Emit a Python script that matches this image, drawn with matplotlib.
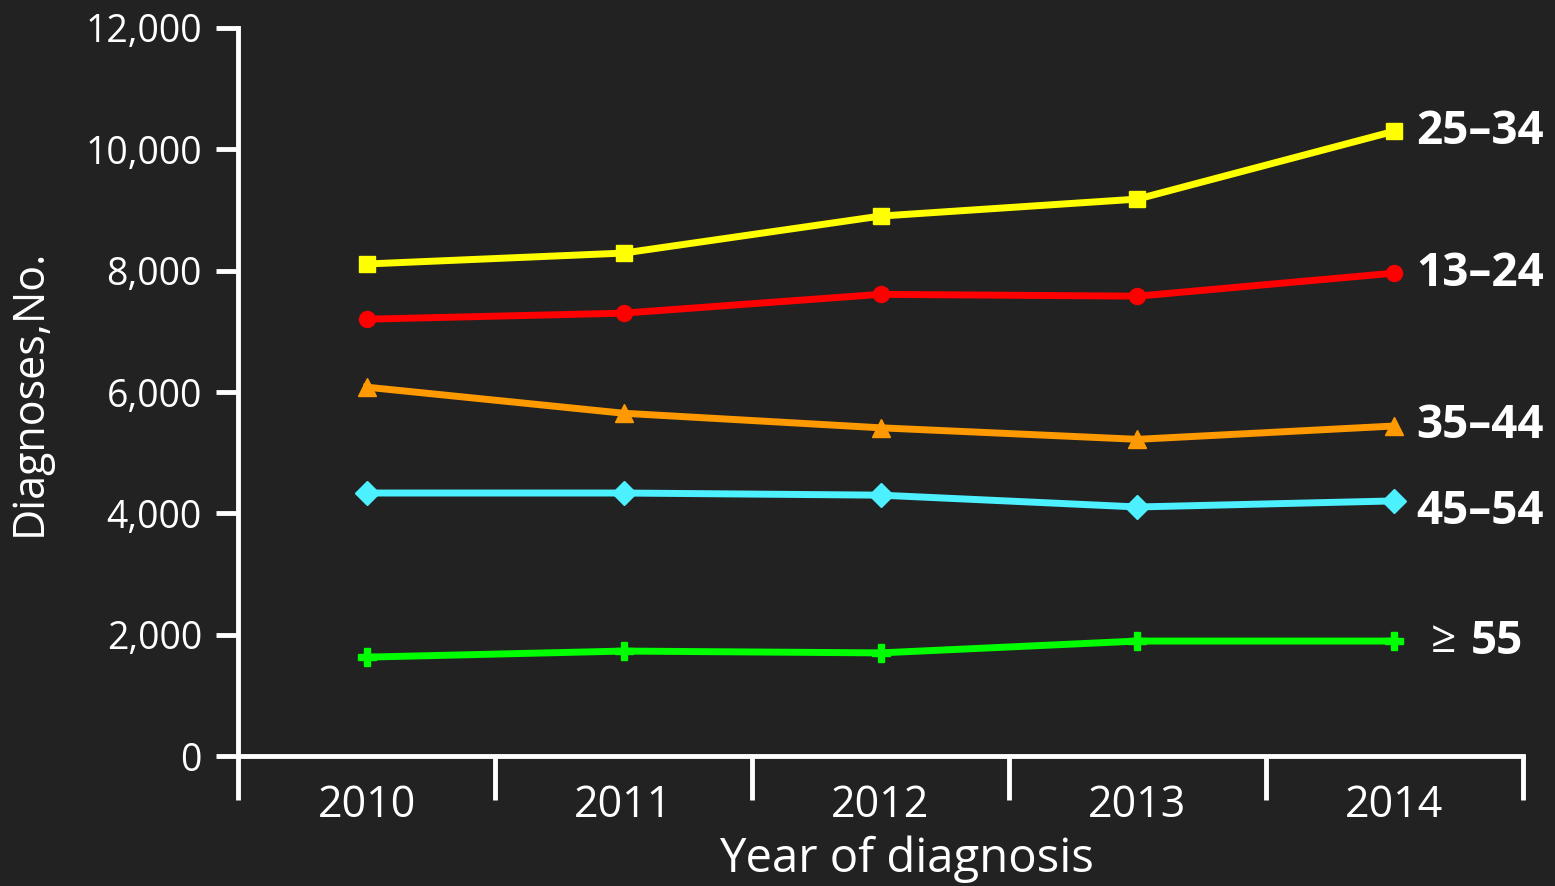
import numpy as np
import matplotlib.pyplot as plt
import matplotlib.ticker as ticker

plt.rcParams['font.family'] = ['Open Sans', 'DejaVu Sans']

years = ["2010", "2011", "2012", "2013", "2014"]

age_13_24 = [7200, 7300, 7610, 7580, 7960]
age_25_34 = [8110, 8290, 8900, 9180, 10300]
age_35_44 = [6080, 5650, 5410, 5220, 5440]
age_45_54 = [4335, 4335, 4300, 4105, 4205]
age_55_up = [1630, 1730, 1700, 1895, 1895]

bg = "#222222"
fg = "white"

series = [
    ("25–34", age_25_34, "#ffff00", "s", 0),
    ("13–24", age_13_24, "#ff0000", "o", 0),
    ("35–44", age_35_44, "#ff9900", "^", 0),
    ("45–54", age_45_54, "#4cf0ff", "D", -180),
    ("55", age_55_up, "#00ff00", "P", 0),
]

fig = plt.figure(figsize=(15.55, 8.86), dpi=100, facecolor=bg)
ax = fig.add_axes([0.1531, 0.1467, 0.8263, 0.8217])
ax.set_facecolor(bg)

x = np.arange(len(years))
for name, vals, color, marker, dy in series:
    ms = 11.5 if marker in ("s", "o") else 12.5
    ax.plot(x, vals, color=color, lw=5, marker=marker, ms=ms,
            mec=color, mfc=color, clip_on=False, zorder=3)

# labels at the right end of each line
for name, vals, color, marker, dy in series:
    if name == "55":
        ax.annotate("≥", (x[-1], vals[-1]), xytext=(26, 0), textcoords="offset points",
                    color=fg, fontsize=32, va="center", ha="left", annotation_clip=False)
        ax.annotate(name, (x[-1], vals[-1]), xytext=(55, 0), textcoords="offset points",
                    color=fg, fontsize=33, fontweight="bold", va="center", ha="left",
                    annotation_clip=False)
    else:
        ax.annotate(name, (x[-1], vals[-1] + dy), xytext=(16, 0), textcoords="offset points",
                    color=fg, fontsize=33, fontweight="bold", va="center", ha="left",
                    annotation_clip=False)

ax.set_xlim(-0.5, len(years) - 0.5)
ax.set_ylim(0, 12000)

for side in ("top", "right"):
    ax.spines[side].set_visible(False)
for side in ("left", "bottom"):
    ax.spines[side].set_color(fg)
    ax.spines[side].set_linewidth(3.5)

ax.yaxis.set_major_locator(ticker.MultipleLocator(2000))
ax.yaxis.set_major_formatter(ticker.StrMethodFormatter("{x:,.0f}"))
ax.tick_params(axis="y", colors=fg, labelcolor=fg, labelsize=27, length=16,
               width=3.5, pad=10)

# tick marks on category boundaries, labels at category centres
ax.xaxis.set_major_locator(ticker.FixedLocator(np.arange(-0.5, len(years))))
ax.xaxis.set_major_formatter(ticker.NullFormatter())
ax.xaxis.set_minor_locator(ticker.FixedLocator(x))
ax.xaxis.set_minor_formatter(ticker.FixedFormatter(years))
ax.tick_params(axis="x", which="major", colors=fg, length=32, width=3.5)
ax.tick_params(axis="x", which="minor", length=0, labelcolor=fg, labelsize=31, pad=20)

ax.set_ylabel("Diagnoses,No.", color=fg, fontsize=31)
ax.yaxis.set_label_coords(-0.145, 0.5)
ax.set_xlabel("Year of diagnosis", color=fg, fontsize=34)
ax.xaxis.set_label_coords(0.52, -0.109)

fig.savefig("out.png", dpi=100, facecolor=bg)
